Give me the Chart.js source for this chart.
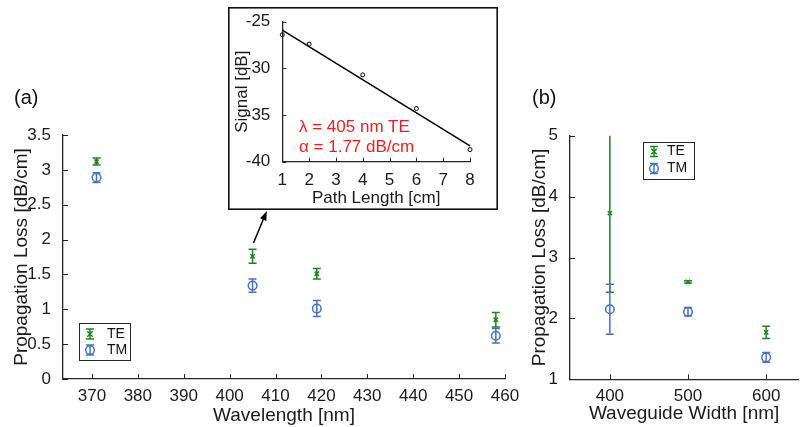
<!DOCTYPE html>
<html>
<head>
<meta charset="utf-8">
<script src="https://cdn.jsdelivr.net/npm/chart.js@4"></script>
<style>
    body { margin: 0; background: #fff; }
    #wrap { position: relative; width: 804px; height: 427px; overflow: hidden; font-family: "Liberation Sans", Arial, sans-serif; }
    canvas { position: absolute; }
    .panel { position: absolute; font-size: 20px; line-height: 22px; color: #111; }
    .note { position: absolute; font-size: 17px; line-height: 20px; color: #f01e1e; white-space: nowrap; }
</style>
</head>
<body>
<div id="wrap">
    <canvas id="chartA" width="520" height="427" style="left:0;top:0"></canvas>
    <canvas id="chartB" width="284" height="427" style="left:520px;top:0"></canvas>
    <canvas id="chartInset" width="270" height="203" style="left:228px;top:7px"></canvas>
    <div class="panel" style="left:14px;top:86px">(a)</div>
    <div class="panel" style="left:532px;top:86px">(b)</div>
    <div class="note" style="left:299px;top:117px">λ = 405 nm TE</div>
    <div class="note" style="left:299px;top:137px">α = 1.77 dB/cm</div>
</div>
<script>
// Données (a) : perte vs longueur d'onde
const wavelengths = [371, 405, 419, 458];
const lossTE_a = [3.12, 1.76, 1.51, 0.85];
const errTE_a = [0.05, 0.1, 0.075, 0.105];
const lossTM_a = [2.89, 1.34, 1.01, 0.62];
const errTM_a = [0.07, 0.095, 0.115, 0.105];
const ticksX_a = [370, 380, 390, 400, 410, 420, 430, 440, 450, 460];

// Données (b) : perte vs largeur du guide
const widths = [400, 500, 600];
const lossTE_b = [3.73, 2.6, 1.77];
const errTE_b = [1.3, 0.02, 0.1];
const lossTM_b = [2.15, 2.11, 1.36];
const errTM_b = [0.41, 0.07, 0.08];
const ticksX_b = [400, 500, 600];

// Encart : signal vs longueur de propagation
const pathLength = [1, 2, 4, 6, 8];
const signal = [-26.4, -27.4, -30.7, -34.3, -38.7];
const fitX = [1, 8];
const fitY = [-25.9, -38.3];

const GREEN = '#1b861b';
const BLUE = '#4472c4';
const AXIS = '#262626';

Chart.defaults.font.family = '"Liberation Sans", Arial, sans-serif';
Chart.defaults.color = '#1a1a1a';
Chart.defaults.animation = false;

function pts(xs, ys) {
    return xs.map((x, i) => ({ x: x, y: ys[i] }));
}

// Étiquettes façon MATLAB (pas de zéros inutiles)
function plainLabel(value) {
    return String(Math.round(value * 100) / 100);
}

// Barres d'erreur dessinées via les échelles
const errorBars = {
    id: 'errorBars',
    beforeDatasetsDraw(chart) {
        const { ctx, chartArea, scales: { x, y } } = chart;
        ctx.save();
        ctx.beginPath();
        ctx.rect(chartArea.left, chartArea.top, chartArea.width, chartArea.height);
        ctx.clip();
        chart.data.datasets.forEach(ds => {
            if (!ds.errors) return;
            ctx.strokeStyle = ds.borderColor;
            ctx.lineWidth = 1.5;
            ds.data.forEach((p, i) => {
                const px = x.getPixelForValue(p.x);
                const lo = y.getPixelForValue(p.y - ds.errors[i]);
                const hi = y.getPixelForValue(p.y + ds.errors[i]);
                ctx.beginPath();
                ctx.moveTo(px, lo); ctx.lineTo(px, hi);
                ctx.moveTo(px - 4, lo); ctx.lineTo(px + 4, lo);
                ctx.moveTo(px - 4, hi); ctx.lineTo(px + 4, hi);
                ctx.stroke();
            });
        });
        ctx.restore();
    }
};

// Graduations tournées vers l'intérieur
const inwardTicks = {
    id: 'inwardTicks',
    afterDatasetsDraw(chart, args, opts) {
        const { ctx, scales: { x, y } } = chart;
        const len = opts.len || 5;
        ctx.save();
        ctx.strokeStyle = AXIS;
        ctx.lineWidth = 1;
        ctx.beginPath();
        x.ticks.forEach(t => {
            const px = Math.round(x.getPixelForValue(t.value)) + 0.5;
            ctx.moveTo(px, y.bottom); ctx.lineTo(px, y.bottom - len);
        });
        y.ticks.forEach(t => {
            const py = Math.round(y.getPixelForValue(t.value)) + 0.5;
            ctx.moveTo(x.left, py); ctx.lineTo(x.left + len, py);
        });
        ctx.stroke();
        ctx.restore();
    }
};

// Légende encadrée façon MATLAB
const boxLegend = {
    id: 'boxLegend',
    afterDraw(chart, args, o) {
        if (!o.width) return;
        const ctx = chart.ctx;
        ctx.save();
        ctx.fillStyle = '#fff';
        ctx.fillRect(o.left, o.top, o.width, o.height);
        ctx.strokeStyle = AXIS;
        ctx.lineWidth = 1;
        ctx.strokeRect(o.left + 0.5, o.top + 0.5, o.width, o.height);
        chart.data.datasets.forEach((ds, i) => {
            const cy = o.top + o.rows[i];
            const sx = o.left + 11;
            ctx.strokeStyle = ds.borderColor;
            ctx.lineWidth = 1.5;
            ctx.beginPath();
            ctx.moveTo(sx, cy - 5); ctx.lineTo(sx, cy + 5);
            ctx.moveTo(sx - 4, cy - 5); ctx.lineTo(sx + 4, cy - 5);
            ctx.moveTo(sx - 4, cy + 5); ctx.lineTo(sx + 4, cy + 5);
            ctx.stroke();
            ctx.beginPath();
            if (ds.pointStyle === 'circle') {
                ctx.arc(sx, cy, 4.3, 0, Math.PI * 2);
            } else {
                ctx.moveTo(sx - 2.7, cy - 2.7); ctx.lineTo(sx + 2.7, cy + 2.7);
                ctx.moveTo(sx + 2.7, cy - 2.7); ctx.lineTo(sx - 2.7, cy + 2.7);
            }
            ctx.stroke();
            ctx.fillStyle = '#111';
            ctx.font = '14px "Liberation Sans", Arial, sans-serif';
            ctx.textBaseline = 'middle';
            ctx.fillText(ds.label, o.left + o.textX, cy);
        });
        ctx.restore();
    }
};

// Flèche vers l'encart
const arrow = {
    id: 'arrow',
    afterDraw(chart, args, o) {
        if (!o.from) return;
        const { ctx, scales: { x, y } } = chart;
        const x1 = x.getPixelForValue(o.from[0]), y1 = y.getPixelForValue(o.from[1]);
        const x2 = x.getPixelForValue(o.to[0]), y2 = y.getPixelForValue(o.to[1]);
        const a = Math.atan2(y2 - y1, x2 - x1);
        ctx.save();
        ctx.strokeStyle = '#000';
        ctx.fillStyle = '#000';
        ctx.lineWidth = 1.5;
        ctx.beginPath();
        ctx.moveTo(x1, y1); ctx.lineTo(x2 - 6 * Math.cos(a), y2 - 6 * Math.sin(a));
        ctx.stroke();
        ctx.beginPath();
        ctx.moveTo(x2, y2);
        ctx.lineTo(x2 - 10 * Math.cos(a - 0.35), y2 - 10 * Math.sin(a - 0.35));
        ctx.lineTo(x2 - 10 * Math.cos(a + 0.35), y2 - 10 * Math.sin(a + 0.35));
        ctx.closePath();
        ctx.fill();
        ctx.restore();
    }
};

// Cadre blanc de l'encart
const insetFrame = {
    id: 'insetFrame',
    beforeDraw(chart, args, o) {
        if (!o.on) return;
        const ctx = chart.ctx;
        ctx.save();
        ctx.fillStyle = '#fff';
        ctx.fillRect(0, 0, chart.width, chart.height);
        ctx.strokeStyle = '#111';
        ctx.lineWidth = 1.6;
        ctx.strokeRect(0.8, 0.8, chart.width - 1.6, chart.height - 1.6);
        ctx.restore();
    }
};

Chart.register(errorBars, inwardTicks, boxLegend, arrow, insetFrame);

function fixedTicks(values) {
    return function(scale) { scale.ticks = values.map(v => ({ value: v })); };
}

function errorDatasets(xs, te, errTe, tm, errTm) {
    return [
        {
            label: 'TE', data: pts(xs, te), errors: errTe,
            borderColor: GREEN, backgroundColor: GREEN,
            pointStyle: 'crossRot', pointRadius: 3, borderWidth: 1.5
        },
        {
            label: 'TM', data: pts(xs, tm), errors: errTm,
            borderColor: BLUE, backgroundColor: 'rgba(0,0,0,0)',
            pointStyle: 'circle', pointRadius: 4.3, borderWidth: 1.5
        }
    ];
}

function axisOpts(extra) {
    return Object.assign({
        type: 'linear',
        grid: { display: false },
        border: { display: true, color: AXIS, width: 1.3 }
    }, extra);
}

// Graphique (a)
new Chart(document.getElementById('chartA'), {
    type: 'scatter',
    data: { datasets: errorDatasets(wavelengths, lossTE_a, errTE_a, lossTM_a, errTM_a) },
    options: {
        responsive: false,
        layout: { padding: { left: 0, top: 135, right: 15, bottom: 0 } },
        plugins: {
            legend: { display: false },
            tooltip: { enabled: false },
            inwardTicks: { len: 5 },
            boxLegend: { left: 79, top: 323, width: 51, height: 37, rows: [11, 27], textX: 28 },
            arrow: { from: [405.2, 1.95], to: [408.1, 2.41] }
        },
        scales: {
            x: axisOpts({
                min: 363.7, max: 460,
                afterBuildTicks: fixedTicks(ticksX_a),
                afterFit: s => { s.height = 48; },
                ticks: { font: { size: 17 }, padding: -1, maxRotation: 0 },
                title: { display: true, text: 'Wavelength [nm]', font: { size: 19 }, padding: { top: 0, bottom: 0 } }
            }),
            y: axisOpts({
                min: 0, max: 3.5,
                ticks: { stepSize: 0.5, font: { size: 17 }, padding: 4, callback: plainLabel },
                afterFit: s => { s.width = 63; },
                title: { display: true, text: 'Propagation Loss [dB/cm]', font: { size: 19 }, padding: { top: 10, bottom: 0 } }
            })
        }
    }
});

// Graphique (b)
new Chart(document.getElementById('chartB'), {
    type: 'scatter',
    data: { datasets: errorDatasets(widths, lossTE_b, errTE_b, lossTM_b, errTM_b) },
    options: {
        responsive: false,
        layout: { padding: { left: 0, top: 135.7, right: 1, bottom: 0 } },
        plugins: {
            legend: { display: false },
            tooltip: { enabled: false },
            inwardTicks: { len: 5 },
            boxLegend: { left: 123, top: 142, width: 51, height: 37, rows: [9.5, 26.5], textX: 24 }
        },
        scales: {
            x: axisOpts({
                min: 349, max: 641,
                afterBuildTicks: fixedTicks(ticksX_b),
                afterFit: s => { s.height = 47.7; },
                ticks: { font: { size: 17 }, padding: -1, maxRotation: 0 },
                title: { display: true, text: 'Waveguide Width [nm]', font: { size: 19 }, padding: { top: 0, bottom: 1.5 } }
            }),
            y: axisOpts({
                min: 1, max: 5,
                ticks: { stepSize: 1, font: { size: 17 }, padding: 4, callback: plainLabel },
                afterFit: s => { s.width = 50; },
                title: { display: true, text: 'Propagation Loss [dB/cm]', font: { size: 19 }, padding: { top: 8, bottom: 0 } }
            })
        }
    }
});

// Encart
new Chart(document.getElementById('chartInset'), {
    type: 'scatter',
    data: {
        datasets: [
            {
                label: 'fit', data: pts(fitX, fitY), showLine: true,
                borderColor: '#000', borderWidth: 1.5, pointRadius: 0
            },
            {
                label: 'mesure', data: pts(pathLength, signal),
                borderColor: '#000', backgroundColor: 'rgba(0,0,0,0)',
                pointStyle: 'circle', pointRadius: 2, borderWidth: 1
            }
        ]
    },
    options: {
        responsive: false,
        clip: false,
        layout: { padding: { left: 0, top: 14.7, right: 28, bottom: 0 } },
        plugins: {
            legend: { display: false },
            tooltip: { enabled: false },
            inwardTicks: { len: 4 },
            insetFrame: { on: true }
        },
        scales: {
            x: axisOpts({
                min: 1, max: 8,
                ticks: { stepSize: 1, font: { size: 17 }, padding: 0, maxRotation: 0 },
                afterFit: s => { s.height = 48.3; },
                title: { display: true, text: 'Path Length [cm]', font: { size: 17 }, padding: { top: 0, bottom: 1 } }
            }),
            y: axisOpts({
                min: -40, max: -25,
                ticks: { stepSize: 5, font: { size: 17 }, padding: 4 },
                afterFit: s => { s.width = 54.3; },
                title: { display: true, text: 'Signal [dB]', font: { size: 17 }, padding: { top: 4, bottom: 0 } }
            })
        }
    }
});
</script>
</body>
</html>
